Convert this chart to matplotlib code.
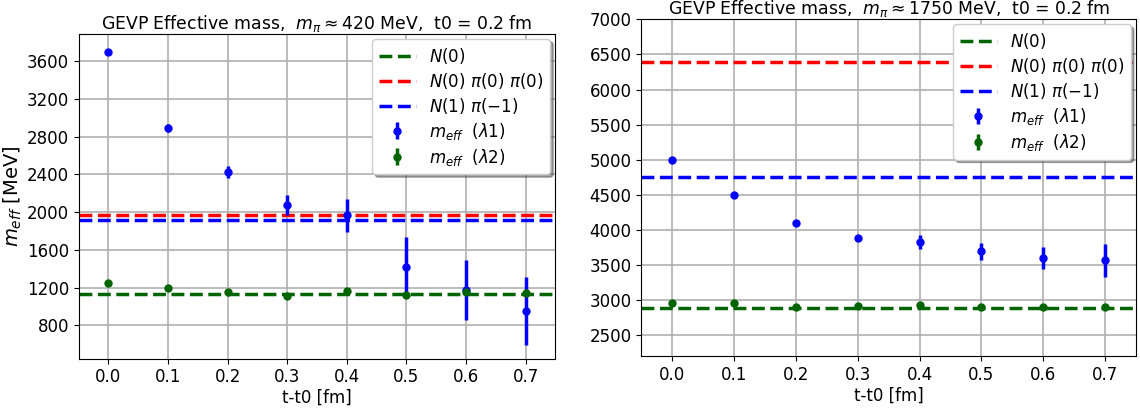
import matplotlib
matplotlib.use("Agg")
import matplotlib.pyplot as plt
import numpy as np

t = [0.0, 0.1, 0.2, 0.3, 0.4, 0.5, 0.6, 0.7]

# Left panel (m_pi ~ 420 MeV)
L_lam1 = [3700, 2892, 2422, 2074, 1968, 1423, 1175, 953]
L_lam1_err = [15, 40, 65, 106, 173, 311, 319, 356]
L_lam2 = [1250, 1195, 1154, 1110, 1165, 1118, 1150, 1147]
L_lam2_err = [10, 12, 12, 25, 15, 15, 30, 40]
L_N0 = 1135
L_N0pipi = 1965
L_N1pi = 1912

# Right panel (m_pi ~ 1750 MeV)
R_lam1 = [5000, 4497, 4103, 3889, 3823, 3695, 3600, 3567]
R_lam1_err = [10, 15, 20, 35, 100, 125, 150, 232]
R_lam2 = [2958, 2963, 2897, 2912, 2926, 2906, 2900, 2902]
R_lam2_err = [8, 8, 8, 8, 10, 10, 10, 10]
R_N0 = 2890
R_N0pipi = 6385
R_N1pi = 4758

xticks = [0.0, 0.1, 0.2, 0.3, 0.4, 0.5, 0.6, 0.7]

W, H = 1140, 409
fig = plt.figure(figsize=(W/100, H/100), dpi=100)

def px_axes(l, t_, r, b):
    return fig.add_axes([l/W, 1 - b/H, (r - l)/W, (b - t_)/H])

def panel(ax, lam1, e1, lam2, e2, n0, n0pp, n1p, title, ylim, yticks, ylabel):
    ax.axhline(n0, color='darkgreen', ls='--', lw=2.5, label=r'$N(0)$', zorder=2)
    ax.axhline(n0pp, color='red', ls='--', lw=2.5, label=r'$N(0)\ \pi(0)\ \pi(0)$', zorder=2)
    ax.axhline(n1p, color='blue', ls='--', lw=2.5, label=r'$N(1)\ \pi(-1)$', zorder=2)
    ax.errorbar(t, lam1, yerr=e1, fmt='o', color='blue', ms=5, elinewidth=2.5,
                capsize=0, label=r'$m_{eff}$  $(\lambda 1)$', zorder=3)
    ax.errorbar(t, lam2, yerr=e2, fmt='o', color='darkgreen', ms=5, elinewidth=2.5,
                capsize=0, label=r'$m_{eff}$  $(\lambda 2)$', zorder=3)
    ax.set_xlim(-0.05, 0.75)
    ax.set_ylim(*ylim)
    ax.set_xticks(xticks)
    ax.set_yticks(yticks)
    ax.tick_params(labelsize=12)
    ax.grid(True, color='#b0b0b0', lw=1.2)
    ax.set_axisbelow(True)
    ax.set_xlabel('t-t0 [fm]', fontsize=12, labelpad=2)
    if ylabel:
        ax.set_ylabel(ylabel, fontsize=14, labelpad=2)
    ax.set_title(title, fontsize=12.4, pad=3.5)
    ax.legend(loc='upper right', fontsize=12, shadow=True, framealpha=1,
              handlelength=2.2, borderaxespad=0.3, labelspacing=0.3)

ax1 = px_axes(78.7, 34, 555.3, 358.7)
panel(ax1, L_lam1, L_lam1_err, L_lam2, L_lam2_err, L_N0, L_N0pipi, L_N1pi,
      r'GEVP Effective mass,  $m_{\pi} \approx$420 MeV,  t0 = 0.2 fm',
      (448, 3887), [800, 1200, 1600, 2000, 2400, 2800, 3200, 3600], r'$m_{eff}$ [MeV]')

ax2 = px_axes(641.3, 19.3, 1136, 356.3)
panel(ax2, R_lam1, R_lam1_err, R_lam2, R_lam2_err, R_N0, R_N0pipi, R_N1pi,
      r'GEVP Effective mass,  $m_{\pi} \approx$1750 MeV,  t0 = 0.2 fm',
      (2200, 7000), [2500, 3000, 3500, 4000, 4500, 5000, 5500, 6000, 6500, 7000], None)

fig.savefig('out.png', dpi=100)
